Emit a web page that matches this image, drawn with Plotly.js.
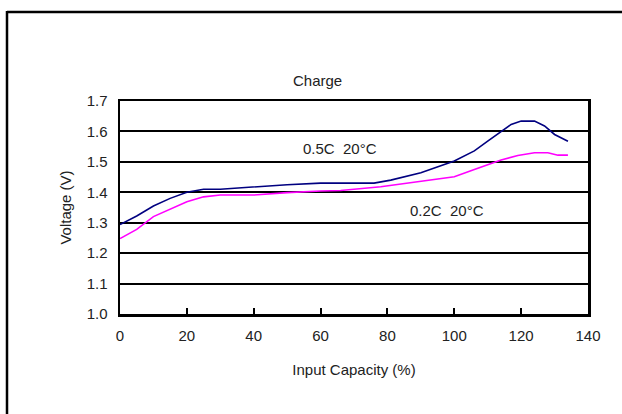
<!DOCTYPE html>
<html>
<head>
<meta charset="utf-8">
<script src="https://cdn.plot.ly/plotly-3.0.1.min.js"></script>
<style>html,body{margin:0;padding:0;background:#fff;}#chart{width:622px;height:414px;}</style>
</head>
<body>
<div id="chart"></div>
<script>
// Input capacity (%) and voltage (V)
const capHigh = [0, 5, 10, 15, 20, 25, 30, 40, 50, 60, 66, 76, 81, 90, 100, 106, 110, 114, 117, 120, 124, 127, 130, 134];
const voltHigh = [1.294, 1.322, 1.355, 1.38, 1.40, 1.41, 1.41, 1.418, 1.425, 1.43, 1.43, 1.43, 1.44, 1.464, 1.503, 1.536, 1.568, 1.60, 1.623, 1.634, 1.634, 1.618, 1.59, 1.568];
const capLow = [0, 5, 10, 15, 20, 25, 30, 40, 50, 60, 66, 78, 90, 100, 106, 114, 119, 124, 128, 131, 134];
const voltLow = [1.248, 1.278, 1.32, 1.344, 1.369, 1.385, 1.391, 1.391, 1.399, 1.404, 1.406, 1.418, 1.436, 1.451, 1.475, 1.506, 1.521, 1.53, 1.53, 1.522, 1.522];
const seriesNames = ["0.5C&nbsp; 20°C", "0.2C&nbsp; 20°C"];
const xTicks = [0, 20, 40, 60, 80, 100, 120, 140];
const yTicks = [1.0, 1.1, 1.2, 1.3, 1.4, 1.5, 1.6, 1.7];

const FONT = "Liberation Sans, Arial, sans-serif";
const FS = 15;
const W = 622, H = 414, L = 120, R = 34, T = 101, B = 100;
const pw = W - L - R, ph = H - T - B;
const px = v => (v - L) / pw;           // pixel x -> paper x
const py = v => (H - B - v) / ph;       // pixel y -> paper y

const traces = [
  {x: capHigh, y: voltHigh, mode: 'lines', line: {color: '#000080', width: 1.6}, name: seriesNames[0], hoverinfo: 'skip'},
  {x: capLow, y: voltLow, mode: 'lines', line: {color: '#FF00FF', width: 1.6}, name: seriesNames[1], hoverinfo: 'skip'}
];

const txt = {family: FONT, size: FS, color: '#222'};

const layout = {
  width: W, height: H,
  margin: {l: L, r: R, t: T, b: B},
  paper_bgcolor: '#fff', plot_bgcolor: '#fff',
  showlegend: false,
  font: txt,
  xaxis: {
    range: [0, 140], tickvals: xTicks, ticktext: xTicks.map(String),
    showgrid: false, zeroline: false,
    showline: true, mirror: true, linecolor: '#000', linewidth: 2.5,
    ticks: 'inside', ticklen: 6, tickwidth: 2, tickcolor: '#000',
    ticklabelstandoff: 6,
    tickfont: txt,
    title: {text: 'Input Capacity (%)', font: txt, standoff: 22}
  },
  yaxis: {
    range: [1.0, 1.7], tickvals: yTicks, ticktext: yTicks.map(v => v.toFixed(1)),
    showgrid: true, gridcolor: '#000', gridwidth: 2,
    zeroline: false,
    showline: true, mirror: true, linecolor: '#000', linewidth: 2.5,
    ticks: '', ticklabelstandoff: 7,
    tickfont: txt,
    title: {text: 'Voltage (V)', font: txt, standoff: 12}
  },
  annotations: [
    {xref: 'paper', yref: 'paper', x: px(317), y: py(70), text: 'Charge', showarrow: false, font: txt},
    {xref: 'x', yref: 'y', x: 65.8, y: 1.543, text: seriesNames[0], showarrow: false, font: txt},
    {xref: 'x', yref: 'y', x: 97.8, y: 1.341, text: seriesNames[1], showarrow: false, font: txt}
  ],
  shapes: [
    {type: 'line', xref: 'paper', yref: 'paper', x0: px(7), x1: px(623), y0: py(12), y1: py(12), line: {color: '#000', width: 2.5}},
    {type: 'line', xref: 'paper', yref: 'paper', x0: px(7), x1: px(7), y0: py(11), y1: py(415), line: {color: '#000', width: 2.5}}
  ]
};

Plotly.newPlot('chart', traces, layout, {staticPlot: true, displayModeBar: false});
</script>
</body>
</html>
